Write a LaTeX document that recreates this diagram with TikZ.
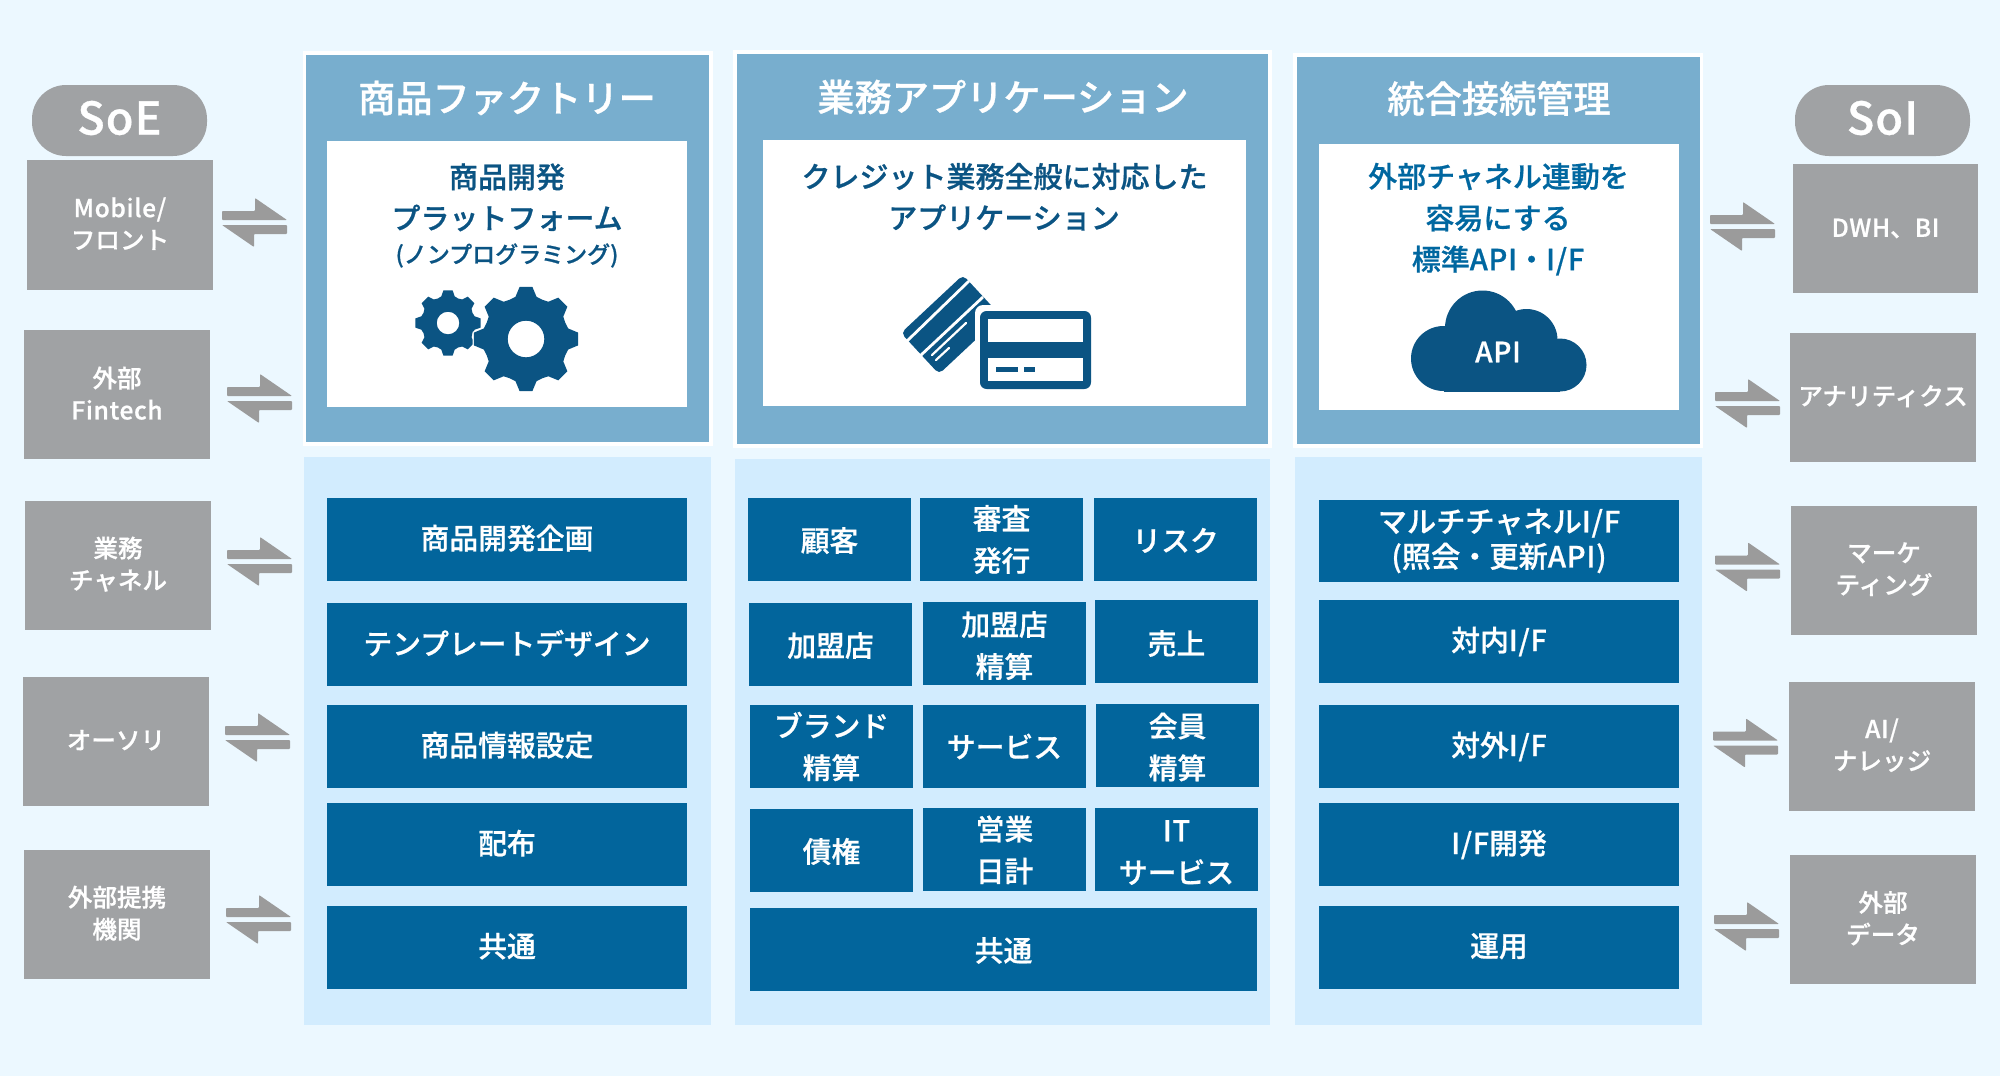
\documentclass[tikz,border=0pt]{standalone}
\usepackage{fontspec}
\setmainfont[FakeBold=0.7]{Noto Sans CJK JP Medium}
\newfontfamily\lbfam[FakeBold=0.7,LetterSpace=2.5]{Noto Sans CJK JP Medium}
\newcommand{\lb}[1]{{\lbfam #1}}
\definecolor{bgpage}{HTML}{ECF8FF}
\definecolor{graybox}{HTML}{A0A2A4}
\definecolor{grayarrow}{HTML}{9B9B9B}
\definecolor{headblue}{HTML}{78AECE}
\definecolor{lightblue}{HTML}{D2ECFE}
\definecolor{boxblue}{HTML}{02659C}
\definecolor{darkblue}{HTML}{0B5483}
\definecolor{textblue}{HTML}{0067A0}
\newcommand{\dgcell}[8][0]{%
  \pgfmathsetmacro\dgw{(#5-#3)/2}\pgfmathsetmacro\dgh{(#6-#4)/2}%
  \node[#2,minimum width=\dgw pt,minimum height=\dgh pt] (#7) at ({(#3+#5)/2},{(#4+#6)/2}) {};%
  \node[#2,fill=none,rounded corners=0pt] (#7t) at ({(#3+#5)/2},{(#4+#6)/2+#1}) {#8};}
\newcommand{\dgplain}[6]{%
  \pgfmathsetmacro\dgw{(#4-#2)/2}\pgfmathsetmacro\dgh{(#5-#3)/2}%
  \node[#1,minimum width=\dgw pt,minimum height=\dgh pt] (#6) at ({(#2+#4)/2},{(#3+#5)/2}) {};}
\tikzset{
  base/.style={inner sep=0pt,outer sep=0pt,align=center},
  pill/.style={base,fill=graybox,text=white,rounded corners=17pt,font=\fontsize{22.5}{26}\selectfont},
  gbox/.style={base,fill=graybox,text=white,font=\fontsize{12.3}{16}\selectfont},
  bbox/.style={base,fill=boxblue,text=white,font=\fontsize{14.4}{21}\selectfont},
  mbox/.style={base,fill=boxblue,text=white,font=\fontsize{14.6}{17.5}\selectfont},
  frame/.style={base,fill=white},
  head/.style={base,fill=headblue},
  inner/.style={base,fill=white},
  light/.style={base,fill=lightblue},
  headtxt/.style={base,text=white,font=\fontsize{18.6}{22}\selectfont},
  bodytxt/.style={base,text=darkblue,font=\fontsize{14.5}{18}\selectfont},
  body3txt/.style={base,text=textblue,font=\fontsize{14.5}{18}\selectfont},
  smalltxt/.style={base,text=darkblue,font=\fontsize{11.5}{14}\selectfont},
  duplex/.pic={
    \fill[grayarrow,rounded corners=0.4pt] (0,13)--(33,13)--(33,0)--(65,22)--(0,22)--cycle;
    \fill[grayarrow,rounded corners=0.4pt] (65,27)--(0,27)--(32,49)--(32,36)--(65,36)--cycle;
  }
}
\newcommand{\dggear}[7][fill=darkblue]{% cx cy R r hole half-tip
  \path[#1,even odd rule] ({#2+(#5-1)*cos(22.5)},{#3+(#5-1)*sin(22.5)})
    \foreach \a in {45,90,...,360}{
      -- ({#2+#5*cos(\a-14)},{#3+#5*sin(\a-14)})
      -- ({#2+#4*cos(\a-#7)},{#3+#4*sin(\a-#7)})
      -- ({#2+#4*cos(\a+#7)},{#3+#4*sin(\a+#7)})
      -- ({#2+#5*cos(\a+14)},{#3+#5*sin(\a+14)})
      -- ({#2+(#5-1)*cos(\a+22.5)},{#3+(#5-1)*sin(\a+22.5)})
    } -- cycle (#2,#3) circle[radius=#6];}
\begin{document}
\begin{tikzpicture}[x=0.5pt,y=-0.5pt]
\useasboundingbox (0,0) rectangle (2000,1076);
\fill[bgpage] (0,0) rectangle (2000,1076);
% light panels
\dgplain{light}{304}{457}{711}{1025}{lp1}
\dgplain{light}{735}{459}{1270}{1025}{lp2}
\dgplain{light}{1295}{457}{1702}{1025}{lp3}
% header panels
\dgplain{frame}{303}{51}{713}{446}{f1}
\dgplain{head}{306}{55}{709}{442}{h1}
\dgplain{inner}{327}{141}{687}{407}{i1}
\dgplain{frame}{733}{50}{1272}{448}{f2}
\dgplain{head}{737}{54}{1268}{444}{h2}
\dgplain{inner}{763}{140}{1246}{406}{i2}
\dgplain{frame}{1293}{53}{1703}{448}{f3}
\dgplain{head}{1297}{57}{1700}{444}{h3}
\dgplain{inner}{1319}{144}{1679}{410}{i3}
% header texts
\node[headtxt] (t1) at (507,98) {商品ファクトリー};
\node[headtxt] (t2) at (1003,97) {業務アプリケーション};
\node[headtxt] (t3) at (1499,98.5) {統合接続管理};
\node[bodytxt] (b1a) at (507,177) {商品開発};
\node[bodytxt] (b1b) at (507,218) {プラットフォーム};
\node[smalltxt] (b1c) at (507,255.5) {(ノンプログラミング)};
\node[bodytxt] (b2a) at (1004.5,176.5) {クレジット業務全般に対応した};
\node[bodytxt] (b2b) at (1004,217.5) {アプリケーション};
\node[body3txt] (b3a) at (1498.5,176.5) {外部チャネル連動を};
\node[body3txt] (b3b) at (1498,218) {容易にする};
\node[body3txt] (b3c) at (1498,260.5) {標準\lb{API}・\lb{I/F}};
% gears
\dggear{448}{323}{33}{27.5}{11.3}{8}
\dggear[fill=white,draw=white,line width=1.2pt]{526}{339}{52.5}{43.5}{18.3}{7}
\dggear{526}{339}{52.5}{43.5}{18.3}{7}
% cards
\fill[darkblue,rounded corners=2.5pt] (963,275)--(901,333)--(939,374)--(1001,316)--cycle;
\draw[white,line width=1.4pt] (969,281)--(906,342);
\draw[white,line width=1.4pt] (983,297)--(920,356);
\draw[white,line width=1.1pt,line cap=round] (966,323)--(932,355);
\draw[white,line width=1.1pt,line cap=round] (949,348)--(936,360);
\fill[white,rounded corners=4pt] (975,305) rectangle (1100,397);
\fill[darkblue,rounded corners=3.3pt] (980,311) rectangle (1091,389);
\fill[white] (988.3,319.3) rectangle (1082.7,341.7);
\fill[white] (988.3,358.3) rectangle (1082.7,380.7);
\fill[darkblue] (996,367) rectangle (1018,372);
\fill[darkblue] (1024,367) rectangle (1035,372);
% cloud
\fill[darkblue] (1443.5,358.5) circle[radius=32.5];
\fill[darkblue] (1482.5,328) circle[radius=37.5];
\fill[darkblue] (1526.5,340) circle[radius=31];
\fill[darkblue] (1560,365) circle[radius=26.5];
\fill[darkblue] (1443.5,345) rectangle (1560,391.5);
\node[base,text=white,font=\fontsize{14}{16}\selectfont] (api) at (1498,352) {\lb{API}};
% left column
\dgcell[-2.5]{pill}{32}{85}{207}{156}{soe}{\lb{SoE}}
\dgcell[-1.3]{gbox}{27}{160}{213}{290}{l1}{\lb{Mobile/}\\フロント}
\dgcell[-1.3]{gbox}{24}{330}{210}{459}{l2}{外部\\\lb{Fintech}}
\dgcell[-1.3]{gbox}{25}{501}{211}{630}{l3}{業務\\チャネル}
\dgcell[-1.3]{gbox}{23}{677}{209}{806}{l4}{オーソリ}
\dgcell[-1.3]{gbox}{24}{850}{210}{979}{l5}{外部提携\\機関}
% right column
\dgcell[-2.5]{pill}{1795}{85}{1970}{156}{soi}{\lb{SoI}}
\dgcell{gbox}{1793}{164}{1978}{293}{r1}{\lb{DWH}、\lb{BI}}
\dgcell[-1.3]{gbox}{1790}{333}{1976}{462}{r2}{アナリティクス}
\dgcell[-1.3]{gbox}{1791}{506}{1977}{635}{r3}{マーケ\\ティング}
\dgcell[-1.3]{gbox}{1789}{682}{1975}{811}{r4}{\lb{AI/}\\ナレッジ}
\dgcell[-1.3]{gbox}{1790}{855}{1976}{984}{r5}{外部\\データ}
% arrows
\pic at (222,198) {duplex};
\pic at (227,374) {duplex};
\pic at (227,537) {duplex};
\pic at (225,713) {duplex};
\pic at (226,895) {duplex};
\pic at (1710,202) {duplex};
\pic at (1715,379) {duplex};
\pic at (1715,542.5) {duplex};
\pic at (1713,718.5) {duplex};
\pic at (1714,902) {duplex};
% panel 1 boxes
\dgcell[-1.3]{bbox}{327}{498}{687}{581}{p1a}{商品開発企画}
\dgcell[-1.3]{bbox}{327}{603}{687}{686}{p1b}{テンプレートデザイン}
\dgcell[-1.3]{bbox}{327}{705}{687}{788}{p1c}{商品情報設定}
\dgcell[-1.3]{bbox}{327}{803}{687}{886}{p1d}{配布}
\dgcell[-1.3]{bbox}{327}{906}{687}{989}{p1e}{共通}
% panel 2 boxes
\dgcell[1]{bbox}{748}{498}{911}{581}{g11}{顧客}
\dgcell{bbox}{920}{498}{1083}{581}{g12}{審査\\発行}
\dgcell[1]{bbox}{1094}{498}{1257}{581}{g13}{リスク}
\dgcell[1]{bbox}{749}{603}{912}{686}{g21}{加盟店}
\dgcell[2]{bbox}{923}{602}{1086}{685}{g22}{加盟店\\精算}
\dgcell[2]{bbox}{1095}{600}{1258}{683}{g23}{売上}
\dgcell{bbox}{750}{705}{913}{788}{g31}{ブランド\\精算}
\dgcell{bbox}{923}{705}{1086}{788}{g32}{サービス}
\dgcell[1.5]{bbox}{1096}{704}{1259}{787}{g33}{会員\\精算}
\dgcell[1]{bbox}{750}{809}{913}{892}{g41}{債権}
\dgcell[0.5]{bbox}{923}{808}{1086}{891}{g42}{営業\\日計}
\dgcell[3]{bbox}{1095}{808}{1258}{891}{g43}{\lb{IT}\\サービス}
\dgcell[1]{bbox}{750}{908}{1257}{991}{g51}{共通}
% panel 3 boxes
\dgcell{mbox}{1319}{500}{1679}{582}{p3a}{マルチチャネル\lb{I/F}\\\lb{(}照会・更新\lb{API)}}
\dgcell{bbox}{1319}{600}{1679}{683}{p3b}{対内\lb{I/F}}
\dgcell{bbox}{1319}{705}{1679}{788}{p3c}{対外\lb{I/F}}
\dgcell{bbox}{1319}{803}{1679}{886}{p3d}{\lb{I/F}開発}
\dgcell[-1.3]{bbox}{1319}{906}{1679}{989}{p3e}{運用}
\end{tikzpicture}
\end{document}
